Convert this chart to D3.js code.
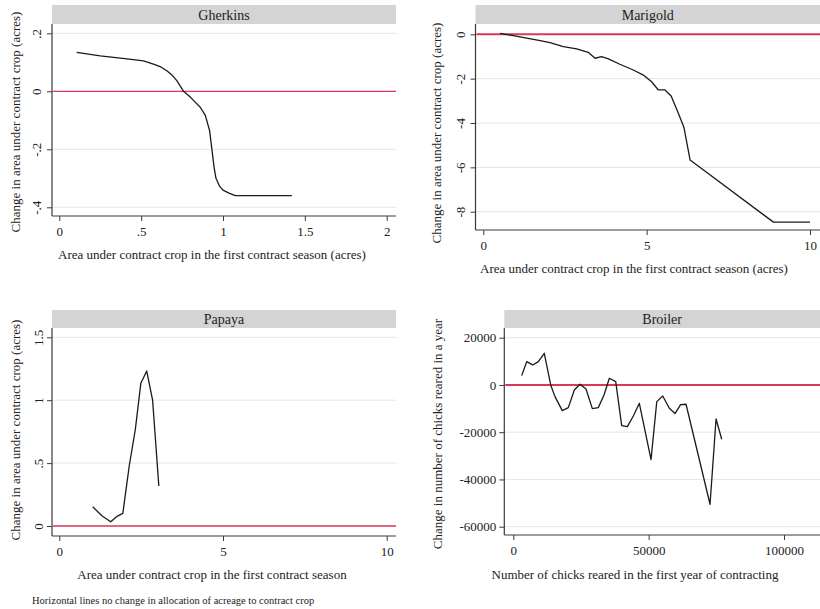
<!DOCTYPE html>
<html><head><meta charset="utf-8">
<script src="https://cdn.jsdelivr.net/npm/d3@7/dist/d3.min.js"></script>
<style>
body{margin:0;background:#fff}
text{font-family:"Liberation Serif","Times New Roman",serif;fill:#222}
</style>
</head><body>
<svg id="chart" width="820" height="609"></svg>
<script>
// ---------- data ----------
const gherkinsX = [0.106, 0.25, 0.40, 0.514, 0.575, 0.62, 0.657, 0.69, 0.718, 0.759, 0.80, 0.861, 0.892, 0.918, 0.93, 0.945, 0.957, 0.98, 1.0, 1.04, 1.075, 1.42];
const gherkinsY = [0.134, 0.122, 0.113, 0.105, 0.094, 0.084, 0.071, 0.055, 0.037, 0.0, -0.02, -0.055, -0.083, -0.135, -0.19, -0.26, -0.30, -0.328, -0.341, -0.352, -0.36, -0.36];

const marigoldX = [0.51, 0.92, 1.74, 2.04, 2.45, 2.86, 3.21, 3.42, 3.62, 3.83, 4.18, 4.59, 4.90, 5.15, 5.36, 5.56, 5.75, 5.97, 6.14, 6.33, 8.88, 10.0];
const marigoldY = [0.04, -0.06, -0.29, -0.38, -0.56, -0.66, -0.81, -1.08, -1.01, -1.11, -1.35, -1.61, -1.84, -2.14, -2.51, -2.51, -2.78, -3.56, -4.19, -5.67, -8.47, -8.47];

const papayaX = [1.02, 1.30, 1.57, 1.75, 1.94, 2.14, 2.32, 2.49, 2.67, 2.85, 3.04];
const papayaY = [0.153, 0.082, 0.034, 0.074, 0.10, 0.485, 0.763, 1.134, 1.232, 1.0, 0.318];

const broilerX = [3100, 4950, 7170, 9240, 11450, 13820, 15400, 18100, 20320, 22540, 24650, 26860, 29200, 31400, 33500, 35480, 37840, 40040, 42130, 44340, 46560, 50880, 53000, 55200, 57640, 59750, 61800, 63810, 72680, 74900, 77000];
const broilerY = [3940, 9860, 8470, 9860, 13400, 0, -4940, -10870, -9600, -2120, 280, -1700, -10000, -9600, -4230, 2820, 1400, -17200, -17640, -13120, -7760, -31600, -7050, -4660, -9880, -12100, -8300, -8170, -50500, -14400, -23000];

const gherkinsXTicks = [0, 0.5, 1, 1.5, 2];
const gherkinsXTickLabels = ["0", ".5", "1", "1.5", "2"];
const gherkinsYTicks = [0.2, 0, -0.2, -0.4];
const gherkinsYTickLabels = [".2", "0", "-.2", "-.4"];

const marigoldXTicks = [0, 5, 10];
const marigoldXTickLabels = ["0", "5", "10"];
const marigoldYTicks = [0, -2, -4, -6, -8];
const marigoldYTickLabels = ["0", "-2", "-4", "-6", "-8"];

const papayaXTicks = [0, 5, 10];
const papayaXTickLabels = ["0", "5", "10"];
const papayaYTicks = [1.5, 1, 0.5, 0];
const papayaYTickLabels = ["1.5", "1", ".5", "0"];

const broilerXTicks = [0, 50000, 100000];
const broilerXTickLabels = ["0", "50000", "100000"];
const broilerYTicks = [20000, 0, -20000, -40000, -60000];
const broilerYTickLabels = ["20000", "0", "-20000", "-40000", "-60000"];

const titles = ["Gherkins", "Marigold", "Papaya", "Broiler"];
const xTitles = [
  "Area under contract crop in the first contract season (acres)",
  "Area under contract crop in the first contract season (acres)",
  "Area under contract crop in the first contract season",
  "Number of chicks reared in the first year of contracting"
];
const yTitles = [
  "Change in area under contract crop (acres)",
  "Change in area under contract crop (acres)",
  "Change in area under contract crop (acres)",
  "Change in number of chicks reared in a year"
];
const note = "Horizontal lines no change in allocation of acreage to contract crop";

// ---------- layout ----------
const panels = [
  {title: titles[0], xs: gherkinsX, ys: gherkinsY, xT: gherkinsXTicks, xL: gherkinsXTickLabels, yT: gherkinsYTicks, yL: gherkinsYTickLabels,
   xDom: [0, 2], xRng: [59.3, 386.7], yDom: [0.2, -0.4], yRng: [33.3, 207.3],
   box: {l: 52, r: 396, t: 24, b: 216}, strip: {t: 5, b: 24}, rotY: true, yLabOff: 15.5,
   xTitle: xTitles[0], xTitlePos: [212, 259], yTitle: yTitles[0], yTitlePos: [15, 122], redW: 1.3},
  {title: titles[1], xs: marigoldX, ys: marigoldY, xT: marigoldXTicks, xL: marigoldXTickLabels, yT: marigoldYTicks, yL: marigoldYTickLabels,
   xDom: [0, 10], xRng: [483.3, 810], yDom: [0, -8], yRng: [34.3, 211.7],
   box: {l: 475.5, r: 820, t: 24, b: 230}, strip: {t: 5, b: 24}, rotY: true, yLabOff: 15.5,
   xTitle: xTitles[1], xTitlePos: [634, 273], yTitle: yTitles[1], yTitlePos: [436.5, 133], redW: 2},
  {title: titles[2], xs: papayaX, ys: papayaY, xT: papayaXTicks, xL: papayaXTickLabels, yT: papayaYTicks, yL: papayaYTickLabels,
   xDom: [0, 10], xRng: [59.3, 386.7], yDom: [1.5, 0], yRng: [337.3, 526],
   box: {l: 52, r: 396, t: 328, b: 536}, strip: {t: 310, b: 328}, rotY: true, yLabOff: 14,
   xTitle: xTitles[2], xTitlePos: [212, 579], yTitle: yTitles[2], yTitlePos: [15, 430], redW: 1.5},
  {title: titles[3], xs: broilerX, ys: broilerY, xT: broilerXTicks, xL: broilerXTickLabels, yT: broilerYTicks, yL: broilerYTickLabels,
   xDom: [0, 100000], xRng: [513.3, 784], yDom: [20000, -60000], yRng: [337.7, 526.7],
   box: {l: 504.3, r: 820, t: 328, b: 535}, strip: {t: 310, b: 328}, rotY: false, yLabOff: 8,
   xTitle: xTitles[3], xTitlePos: [635, 579], yTitle: yTitles[3], yTitlePos: [437, 434], redW: 2}
];

const svg = d3.select("#chart");
const axisColor = "#3a3a3a";
const fs = 13;

panels.forEach(p => {
  const g = svg.append("g");
  const x = d3.scaleLinear().domain(p.xDom).range(p.xRng);
  const y = d3.scaleLinear().domain(p.yDom).range(p.yRng);

  // strip
  g.append("rect").attr("x", p.box.l).attr("y", p.strip.t)
    .attr("width", p.box.r - p.box.l).attr("height", p.strip.b - p.strip.t)
    .attr("fill", "#d4d4d4");
  g.append("text").attr("x", (p.box.l + p.box.r) / 2).attr("y", (p.strip.t + p.strip.b) / 2)
    .attr("dy", "0.36em").attr("text-anchor", "middle").style("font-size", "14px").text(p.title);

  // grid lines
  g.selectAll("line.grid").data(p.yT).join("line").attr("class", "grid")
    .attr("x1", p.box.l).attr("x2", p.box.r)
    .attr("y1", d => y(d)).attr("y2", d => y(d))
    .attr("stroke", "#e6e6e6").attr("stroke-width", 1);

  // zero line
  g.append("line").attr("x1", p.box.l + 1).attr("x2", p.box.r)
    .attr("y1", y(0)).attr("y2", y(0))
    .attr("stroke", "#d8385a").attr("stroke-width", p.redW);

  // data line
  const pts = p.xs.map((v, i) => [v, p.ys[i]]);
  g.append("path").datum(pts)
    .attr("d", d3.line().x(d => x(d[0])).y(d => y(d[1])))
    .attr("fill", "none").attr("stroke", "#1a1a1a").attr("stroke-width", 1.3)
    .attr("stroke-linejoin", "round");

  // x axis
  const xa = g.append("g").attr("transform", `translate(0,${p.box.b})`)
    .call(d3.axisBottom(x).tickValues(p.xT).tickFormat((d, i) => p.xL[i]).tickSize(5).tickPadding(6));
  xa.select(".domain").remove();
  xa.selectAll("line").attr("stroke", axisColor);
  xa.selectAll("text").style("font-size", fs + "px").attr("fill", "#222");

  // y axis
  const ya = g.append("g").attr("transform", `translate(${p.box.l},0)`)
    .call(d3.axisLeft(y).tickValues(p.yT).tickFormat((d, i) => p.yL[i]).tickSize(5).tickPadding(3));
  ya.select(".domain").remove();
  ya.selectAll("line").attr("stroke", axisColor);
  ya.selectAll("text").style("font-size", fs + "px").attr("fill", "#222");
  if (p.rotY) {
    ya.selectAll("text").attr("x", 0).attr("y", -p.yLabOff).attr("dy", "0.35em")
      .attr("text-anchor", "middle").attr("transform", "rotate(-90)");
  }

  // axis lines
  g.append("line").attr("x1", p.box.l).attr("x2", p.box.r).attr("y1", p.box.b).attr("y2", p.box.b)
    .attr("stroke", axisColor).attr("stroke-width", 1.2);
  g.append("line").attr("x1", p.box.l).attr("x2", p.box.l).attr("y1", p.box.t).attr("y2", p.box.b)
    .attr("stroke", axisColor).attr("stroke-width", 1.2);

  // titles
  g.append("text").attr("x", p.xTitlePos[0]).attr("y", p.xTitlePos[1])
    .attr("text-anchor", "middle").style("font-size", fs + "px").text(p.xTitle);
  g.append("text").attr("transform", `translate(${p.yTitlePos[0]},${p.yTitlePos[1]}) rotate(-90)`)
    .attr("dy", "0.35em").attr("text-anchor", "middle").style("font-size", fs + "px").text(p.yTitle);
});

svg.append("text").attr("x", 32).attr("y", 604).style("font-size", "10.5px").text(note);
</script>
</body></html>
